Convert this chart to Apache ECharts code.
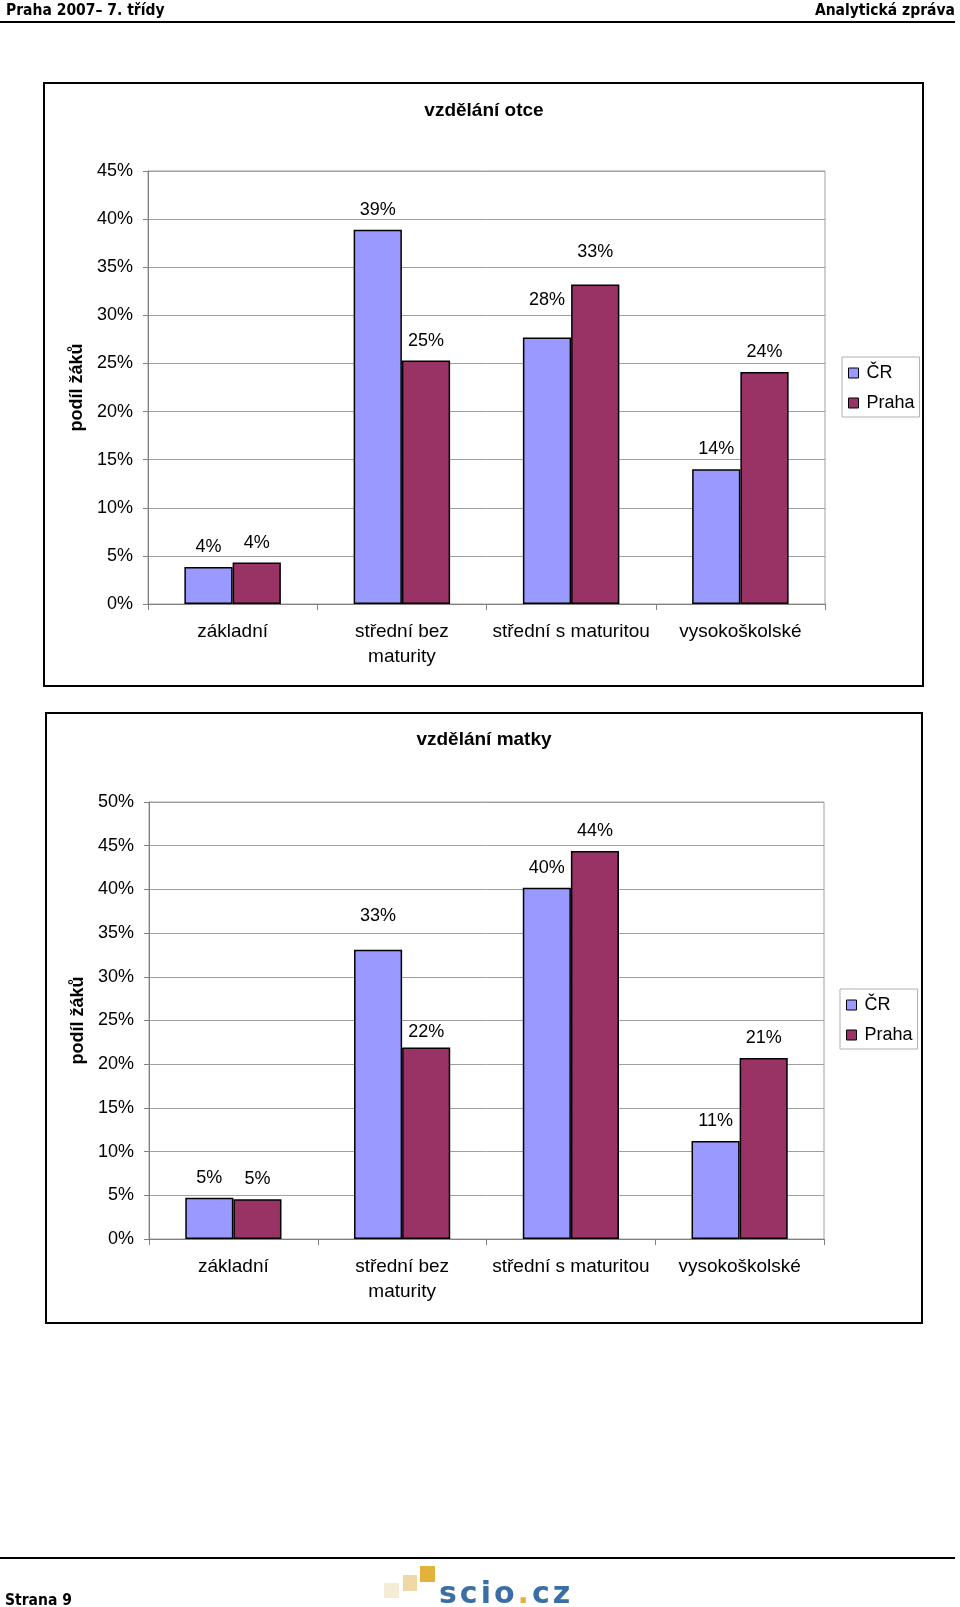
<!DOCTYPE html>
<html>
<head>
<meta charset="utf-8">
<script src="https://cdn.jsdelivr.net/npm/echarts@6/dist/echarts.min.js"></script>
<style>
  html, body { margin: 0; padding: 0; background: #fff; }
  #page { position: relative; width: 960px; height: 1607px; overflow: hidden; background: #fff; }
  #chart { position: absolute; left: 0; top: 0; width: 960px; height: 1607px; }
  .hdr { position: absolute; z-index: 2; font-family: 'DejaVu Sans Condensed', 'DejaVu Sans', sans-serif; font-weight: bold; font-size: 15.5px; line-height: 18px; color: #000; white-space: nowrap; }
  .rule { position: absolute; z-index: 2; left: 0; width: 955px; height: 2px; background: #000; }
  .sq { position: absolute; z-index: 2; }
  #logo { position: absolute; z-index: 2; left: 439px; top: 1578px; font-family: 'DejaVu Sans', sans-serif; font-weight: bold; font-size: 30px; line-height: 30px; letter-spacing: 3px; color: #3a6ea5; white-space: nowrap; }
</style>
</head>
<body>
<div id="page">
  <div id="chart"></div>
  <div class="hdr" style="left:6px; top:1px;">Praha 2007– 7. třídy</div>
  <div class="hdr" style="right:5px; top:1px;">Analytická zpráva</div>
  <div class="rule" style="top:21px;"></div>
  <div class="rule" style="top:1557px;"></div>
  <div class="hdr" style="left:5px; top:1591px;">Strana 9</div>
  <div class="sq" style="left:384px; top:1583px; width:15px; height:15px; background:#f6ecd6;"></div>
  <div class="sq" style="left:403px; top:1575px; width:14px; height:16px; background:#efd9a2;"></div>
  <div class="sq" style="left:420px; top:1566px; width:15px; height:16px; background:#e2b23a;"></div>
  <div id="logo">scio<span style="color:#e2b23a">.</span>cz</div>
</div>
<script>
// ---- data ----
const categories = ['základní', 'střední bez\nmaturity', 'střední s maturitou', 'vysokoškolské'];
const seriesNames = ['ČR', 'Praha'];
const titles = ['vzdělání otce', 'vzdělání matky'];
const yAxisName = 'podíl žáků';
const otceCR    = [3.85, 38.9, 27.7, 14.0];
const otcePraha = [4.3, 25.3, 33.2, 24.1];
const matkyCR    = [4.73, 33.1, 40.2, 11.2];
const matkyPraha = [4.54, 21.9, 44.4, 20.7];
const yMaxOtce = 45;
const yMaxMatky = 50;
const yInterval = 5;

// ---- styling (label gaps that were moved by hand in the original) ----
const FONT = "'Liberation Sans', Arial, sans-serif";
const colors = ['#9999ff', '#993366'];
const defaultLabelGap = 11;
const labelGapOverride = {
  '0-0-2': 28, '0-1-2': 24,
  '1-0-1': 25, '1-1-1': 7
};

const chart = echarts.init(document.getElementById('chart'), null, { renderer: 'canvas' });

function mkX(gi) {
  return {
    type: 'category', gridIndex: gi, data: categories,
    axisLine: { show: true, lineStyle: { color: '#808080', width: 1 } },
    axisTick: { show: true, length: 6, interval: 0, lineStyle: { color: '#808080' } },
    axisLabel: { interval: 0, fontFamily: FONT, fontSize: 19, lineHeight: 25, margin: 15, color: '#000' },
    splitLine: { show: false }
  };
}
function mkY(gi, max, gap) {
  return {
    type: 'value', gridIndex: gi, min: 0, max: max, interval: yInterval,
    name: yAxisName, nameLocation: 'middle', nameRotate: 90, nameGap: gap,
    nameTextStyle: { fontFamily: FONT, fontSize: 18, fontWeight: 'bold', color: '#000' },
    axisLine: { show: true, lineStyle: { color: '#808080', width: 1 } },
    axisTick: { show: true, length: 5, lineStyle: { color: '#808080' } },
    axisLabel: { formatter: '{value}%', fontFamily: FONT, fontSize: 18, margin: 15, color: '#000' },
    splitLine: { show: true, lineStyle: { color: '#a0a0a0', width: 1 } }
  };
}
function mkSeries(name, values, gi, ci) {
  return {
    type: 'bar', name: name, xAxisIndex: gi, yAxisIndex: gi,
    data: values.map((v, i) => {
      const k = gi + '-' + ci + '-' + i;
      return k in labelGapOverride ? { value: v, label: { distance: labelGapOverride[k] } } : v;
    }),
    barGap: '0%', barCategoryGap: '43%',
    itemStyle: { color: colors[ci], borderColor: '#000', borderWidth: 1.5 },
    label: {
      show: true, position: 'top', distance: defaultLabelGap,
      fontFamily: FONT, fontSize: 18, lineHeight: 18, color: '#000',
      formatter: p => Math.round(p.value) + '%'
    }
  };
}
function mkLegend(left, top) {
  return {
    orient: 'vertical', left: left, top: top,
    data: seriesNames, icon: 'rect',
    itemWidth: 10, itemHeight: 10, itemGap: 10,
    padding: [6, 5, 4, 6],
    borderColor: '#b0b0b0', borderWidth: 1, backgroundColor: '#fff',
    itemStyle: { borderColor: '#000', borderWidth: 1 },
    textStyle: { fontFamily: FONT, fontSize: 18, lineHeight: 20, color: '#000', padding: [0, 0, 0, 3] }
  };
}

const option = {
  animation: false,
  backgroundColor: 'transparent',
  graphic: [
    { type: 'rect', shape: { x: 44, y: 83, width: 879, height: 603 }, style: { fill: 'none', stroke: '#000', lineWidth: 2 }, z: 0 },
    { type: 'rect', shape: { x: 46, y: 713, width: 876, height: 610 }, style: { fill: 'none', stroke: '#000', lineWidth: 2 }, z: 0 },
    { type: 'text', x: 484, y: 111, style: { text: titles[0], fontFamily: FONT, fontSize: 19, fontWeight: 'bold', fill: '#000', textAlign: 'center', textVerticalAlign: 'middle' } },
    { type: 'text', x: 484, y: 740, style: { text: titles[1], fontFamily: FONT, fontSize: 19, fontWeight: 'bold', fill: '#000', textAlign: 'center', textVerticalAlign: 'middle' } }
  ],
  legend: [mkLegend(842, 357), mkLegend(840, 989)],
  grid: [
    { left: 148, top: 171, width: 677, height: 433, show: true, borderColor: '#a0a0a0', borderWidth: 1, containLabel: false },
    { left: 149, top: 802, width: 675, height: 437, show: true, borderColor: '#a0a0a0', borderWidth: 1, containLabel: false }
  ],
  xAxis: [mkX(0), mkX(1)],
  yAxis: [mkY(0, yMaxOtce, 62), mkY(1, yMaxMatky, 60)],
  series: [
    mkSeries(seriesNames[0], otceCR, 0, 0),
    mkSeries(seriesNames[1], otcePraha, 0, 1),
    mkSeries(seriesNames[0], matkyCR, 1, 0),
    mkSeries(seriesNames[1], matkyPraha, 1, 1)
  ]
};
chart.setOption(option);
</script>
</body>
</html>
